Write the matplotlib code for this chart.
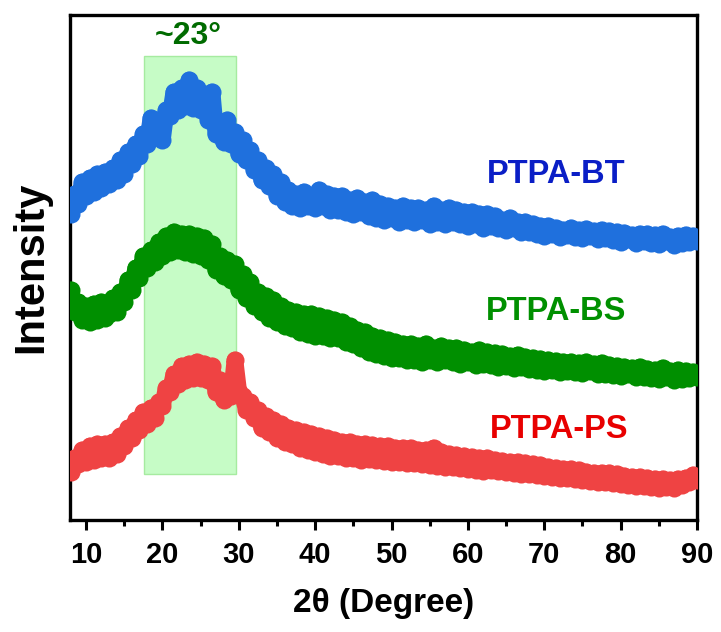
import numpy as np
import matplotlib
matplotlib.use("Agg")
import matplotlib.pyplot as plt
from matplotlib.patches import Rectangle
from matplotlib.ticker import MultipleLocator

plt.rcParams['font.family'] = ['Liberation Sans', 'DejaVu Sans']

# 2-theta sampling grid (degrees)
two_theta = np.arange(8.0, 90.01, 0.5)

# Intensities (arbitrary units, offset stacked)
ptpa_bt = [
    306, 326, 316, 338, 324, 342, 328, 346, 332, 348,
    336, 352, 340, 360, 346, 368, 356, 376, 364, 386,
    376, 402, 384, 400, 380, 410, 404, 428, 410, 432,
    414, 440, 412, 432, 410, 426, 400, 428, 386, 398,
    378, 400, 376, 388, 366, 380, 360, 370, 350, 360,
    340, 352, 334, 346, 324, 338, 318, 330, 314, 326,
    312, 328, 314, 324, 312, 330, 314, 326, 310, 324,
    310, 324, 308, 320, 306, 322, 308, 318, 304, 320,
    302, 316, 300, 314, 302, 312, 298, 314, 300, 312,
    298, 312, 300, 310, 296, 314, 298, 310, 296, 312,
    298, 310, 296, 308, 294, 308, 296, 306, 292, 306,
    294, 304, 292, 300, 290, 302, 292, 298, 288, 298,
    288, 296, 286, 294, 284, 294, 286, 292, 283, 290,
    285, 292, 283, 290, 282, 291, 284, 289, 281, 290,
    282, 289, 280, 288, 278, 287, 281, 285, 277, 286,
    279, 286, 277, 285, 276, 286, 279, 283, 275, 284,
    277, 285, 278, 284, 279,
]
ptpa_bs = [
    230, 208, 218, 200, 214, 198, 216, 200, 218, 202,
    206, 222, 208, 228, 218, 240, 230, 252, 242, 264,
    252, 270, 258, 278, 264, 284, 268, 288, 270, 286,
    268, 286, 266, 284, 264, 282, 260, 276, 250, 264,
    244, 260, 240, 256, 230, 246, 222, 238, 214, 228,
    208, 224, 202, 220, 198, 214, 194, 210, 192, 208,
    188, 206, 186, 206, 184, 204, 184, 202, 182, 200,
    182, 198, 178, 194, 176, 190, 172, 188, 168, 184,
    166, 182, 164, 180, 162, 178, 162, 176, 160, 176,
    160, 174, 158, 176, 160, 172, 158, 174, 160, 172,
    158, 172, 156, 170, 158, 168, 155, 170, 156, 168,
    155, 167, 153, 166, 154, 164, 152, 165, 153, 163,
    151, 162, 150, 161, 149, 160, 150, 159, 148, 158,
    149, 158, 148, 157, 147, 158, 149, 156, 146, 157,
    146, 155, 145, 154, 144, 153, 146, 152, 143, 153,
    143, 151, 142, 150, 141, 152, 143, 149, 140, 150,
    141, 149, 142, 148, 143,
]
ptpa_ps = [
    48, 62, 56, 70, 58, 74, 60, 76, 62, 76,
    62, 78, 66, 84, 74, 92, 82, 100, 90, 108,
    96, 112, 102, 118, 114, 132, 128, 146, 136, 154,
    140, 156, 142, 158, 142, 156, 140, 154, 128, 140,
    120, 138, 124, 160, 128, 124, 110, 118, 102, 110,
    92, 104, 88, 100, 82, 96, 78, 92, 76, 90,
    72, 88, 70, 86, 68, 84, 66, 82, 64, 80,
    64, 78, 62, 78, 62, 76, 60, 76, 61, 75,
    60, 74, 59, 74, 58, 72, 58, 72, 57, 72,
    57, 70, 56, 70, 55, 72, 54, 68, 53, 66,
    53, 65, 52, 64, 51, 63, 50, 62, 49, 62,
    50, 60, 49, 59, 48, 58, 47, 58, 46, 57,
    46, 56, 45, 55, 44, 53, 43, 52, 42, 51,
    42, 51, 41, 50, 40, 48, 39, 47, 38, 47,
    38, 47, 37, 46, 36, 44, 35, 43, 34, 43,
    34, 42, 33, 41, 32, 41, 33, 40, 32, 41,
    35, 42, 38, 45, 40,
]

series_names = ["PTPA-BT", "PTPA-BS", "PTPA-PS"]
series_values = [ptpa_bt, ptpa_bs, ptpa_ps]
line_colors = ["#1F70DD", "#008F00", "#EF4343"]
label_colors = ["#0A1EC6", "#009000", "#E80000"]
label_pos = [(71.5, 345), (71.5, 208), (72.0, 90)]

band_range = (17.6, 29.6)
band_label = "~23°"
x_ticks = [10, 20, 30, 40, 50, 60, 70, 80, 90]

fig = plt.figure(figsize=(7.21, 6.32), dpi=100)
ax = fig.add_axes([70/721, 112/632, 627/721, 505/632])

ax.add_patch(Rectangle((band_range[0], 46), band_range[1]-band_range[0], 418,
                       facecolor="#C6FCC6", edgecolor="#A6EBA0", linewidth=1.0, zorder=1))
ax.text(23.4, 484, band_label, color="#006B00", fontsize=23, fontweight="bold",
        ha="center", va="center", zorder=5)

for vals, c in zip(series_values, line_colors):
    ax.plot(two_theta, vals, '-o', color=c, linewidth=12, markersize=13,
            markeredgewidth=0, solid_capstyle='round', solid_joinstyle='round',
            zorder=3)

for name, c, (lx, ly) in zip(series_names, label_colors, label_pos):
    ax.text(lx, ly, name, color=c, fontsize=23.5, fontweight="bold",
            ha="center", va="center", zorder=5)

ax.set_xlim(7.9, 90)
ax.set_ylim(0, 505)
ax.set_xticks(x_ticks)
ax.xaxis.set_minor_locator(MultipleLocator(5))
ax.set_yticks([])
ax.tick_params(axis='x', which='major', direction='out', length=7, width=2.2,
               labelsize=21, pad=8)
ax.tick_params(axis='x', which='minor', direction='out', length=4, width=2.2)
for lab in ax.get_xticklabels():
    lab.set_fontweight('bold')
for sp in ax.spines.values():
    sp.set_linewidth(2.4)

ax.set_xlabel("2θ (Degree)", fontsize=24, fontweight="bold")
ax.xaxis.set_label_coords(0.5, -0.135)
ax.set_ylabel("Intensity", fontsize=30, fontweight="bold")
ax.yaxis.set_label_coords(-0.062, 0.5)
ax.yaxis.label.set_va('center')

fig.savefig("out.png", dpi=100)
